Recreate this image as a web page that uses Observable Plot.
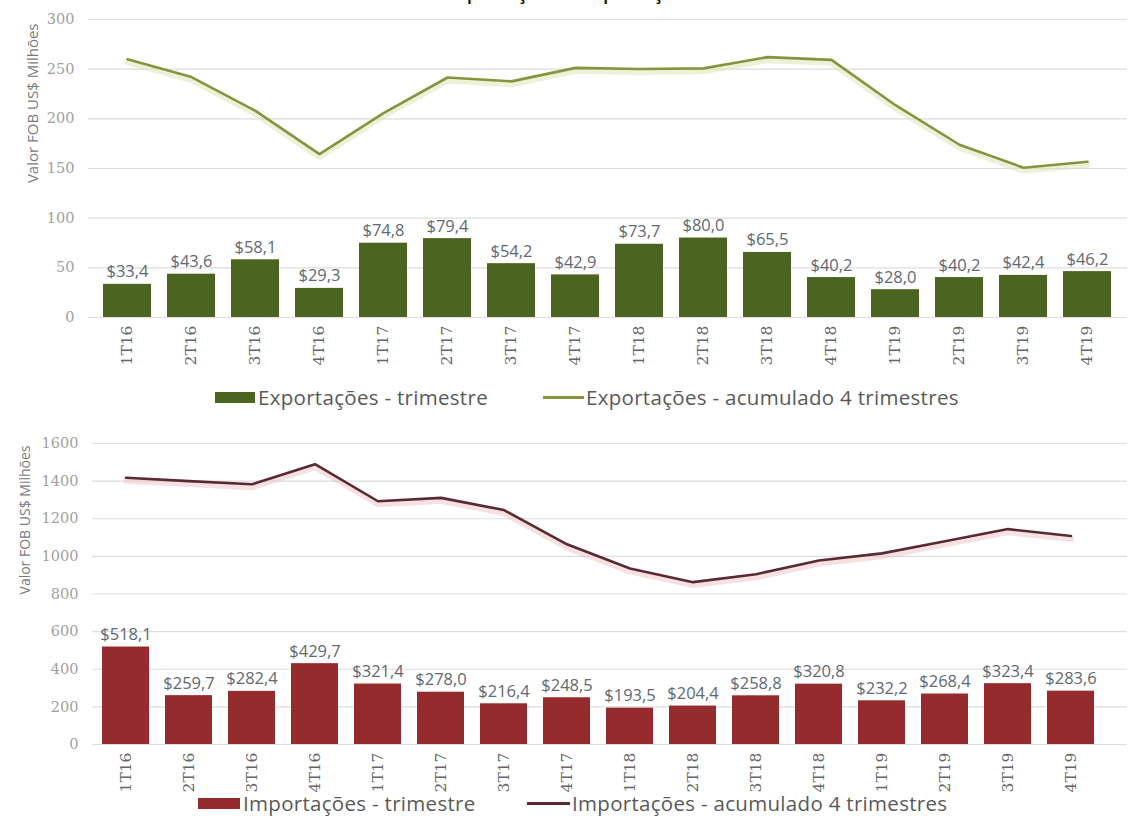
<!DOCTYPE html>
<html>
<head>
<meta charset="utf-8">
<script src="https://cdn.jsdelivr.net/npm/d3@7"></script>
<script src="https://cdn.jsdelivr.net/npm/@observablehq/plot@0.6"></script>
<style>
  body { margin: 0; background: #fff; width: 1140px; height: 824px; overflow: hidden; position: relative; font-family: "Open Sans", sans-serif; }
  #title { position: absolute; top: -21px; left: 0; width: 1140px; text-align: center; font-size: 19px; font-weight: 600; color: #111; }
  .chart { position: absolute; left: 0; }
  .leg { position: absolute; display: flex; align-items: center; font-size: 20.5px; letter-spacing: 0.3px; color: #595959; white-space: nowrap; }
  .sw { display: inline-block; width: 40px; height: 11px; margin-right: 3px; }
  .ln { display: inline-block; width: 41px; height: 3px; margin-right: 2px; }
  .chart svg g[aria-label="y-axis tick label"] text,
  .chart svg g[aria-label="x-axis tick label"] text { font-family: "DejaVu Serif", serif !important; }
</style>
</head>
<body>
<div id="title">Exportações e Importações</div>
<div id="top" class="chart" style="top:0px"></div>
<div class="leg" style="left:215px; top:384px; height:26px;"><span class="sw" style="background:#4b6520"></span>Exportações - trimestre</div>
<div class="leg" style="left:543px; top:384px; height:26px;"><span class="ln" style="background:#84953f"></span>Exportações - acumulado 4 trimestres</div>
<div id="bottom" class="chart" style="top:414px"></div>
<div class="leg" style="left:198px; top:790px; height:26px;"><span class="sw" style="width:42px;background:#962b2e"></span>Importações - trimestre</div>
<div class="leg" style="left:527px; top:790px; height:26px;"><span class="ln" style="width:43px;background:#5a2a32"></span>Importações - acumulado 4 trimestres</div>
<script>
const quarters = ["1T16","2T16","3T16","4T16","1T17","2T17","3T17","4T17","1T18","2T18","3T18","4T18","1T19","2T19","3T19","4T19"];
const expTrim = [33.4,43.6,58.1,29.3,74.8,79.4,54.2,42.9,73.7,80.0,65.5,40.2,28.0,40.2,42.4,46.2];
const expAcum = [260,242,208,164.4,205.8,241.6,237.7,251.3,250.2,250.8,262.1,259.4,213.7,173.9,150.8,156.8];
const impTrim = [518.1,259.7,282.4,429.7,321.4,278.0,216.4,248.5,193.5,204.4,258.8,320.8,232.2,268.4,323.4,283.6];
const impAcum = [1418,1400,1383,1490,1293,1311,1246,1064,936,863,905,978,1016,1080,1145,1108];
const expTicks = [0,50,100,150,200,250,300];
const impTicks = [0,200,400,600,800,1000,1200,1400,1600];
const yTitle = "Valor FOB US$ Milhões";

function fmt(v) { return "$" + v.toFixed(1).replace(".", ","); }

function panel(o) {
  const data = quarters.map((q, i) => ({q, v: o.values[i], a: o.acum[i]}));
  return Plot.plot({
    width: 1140, height: o.height,
    marginTop: o.marginTop, marginBottom: o.marginBottom, marginLeft: o.marginLeft, marginRight: 13,
    style: {background: "transparent", overflow: "visible"},
    x: {domain: quarters, padding: 0.25, range: o.xRange, label: null},
    y: {domain: [0, o.yMax], label: null},
    marks: [
      Plot.ruleY(o.ticks, {stroke: "#dedede", strokeWidth: 1.2}),
      Plot.barY(data, {x: "q", y: "v", fill: o.barColor}),
      Plot.line(data, {x: "q", y: "a", stroke: o.shadow, strokeWidth: 6, dy: 3, strokeOpacity: 0.45}),
      Plot.line(data, {x: "q", y: "a", stroke: o.lineColor, strokeWidth: 2.6}),
      Plot.text(data, {x: "q", y: "v", text: d => fmt(d.v), dy: -7, lineAnchor: "bottom", fill: "#5f6873", fontSize: 16.5, fontFamily: "Open Sans", letterSpacing: "0.4px"}),
      Plot.axisY({ticks: o.ticks, tickFormat: d => String(d), tickSize: 0, tickPadding: 14, fontSize: 14.5, fontFamily: "DejaVu Serif", color: "#a0a0a0", label: null}),
      Plot.axisX({tickSize: 0, tickPadding: 8, tickRotate: -90, fontSize: 15.5, fontFamily: "DejaVu Serif", color: "#666666", label: null}),
      Plot.text([yTitle], {frameAnchor: "top-left", rotate: -90, textAnchor: "end", dx: o.titleDx, dy: o.titleDy, fontSize: o.titleSize, fill: "#7a7a7a", fontFamily: "Open Sans"})
    ]
  });
}

document.getElementById("top").append(panel({
  values: expTrim, acum: expAcum, ticks: expTicks, yMax: 300,
  height: 380, marginTop: 19, marginBottom: 63, marginLeft: 88,
  xRange: [81.6, 1131.4],
  barColor: "#4b6520", lineColor: "#84953f", shadow: "#d9e0a8",
  titleDx: -61, titleDy: 4, titleSize: 15
}));

document.getElementById("bottom").append(panel({
  values: impTrim, acum: impAcum, ticks: impTicks, yMax: 1600,
  height: 376, marginTop: 29, marginBottom: 46, marginLeft: 92,
  xRange: [82.3, 1114.7],
  barColor: "#962b2e", lineColor: "#5a2a32", shadow: "#e8bcbc",
  titleDx: -72, titleDy: 2, titleSize: 14
}));
</script>
</body>
</html>
